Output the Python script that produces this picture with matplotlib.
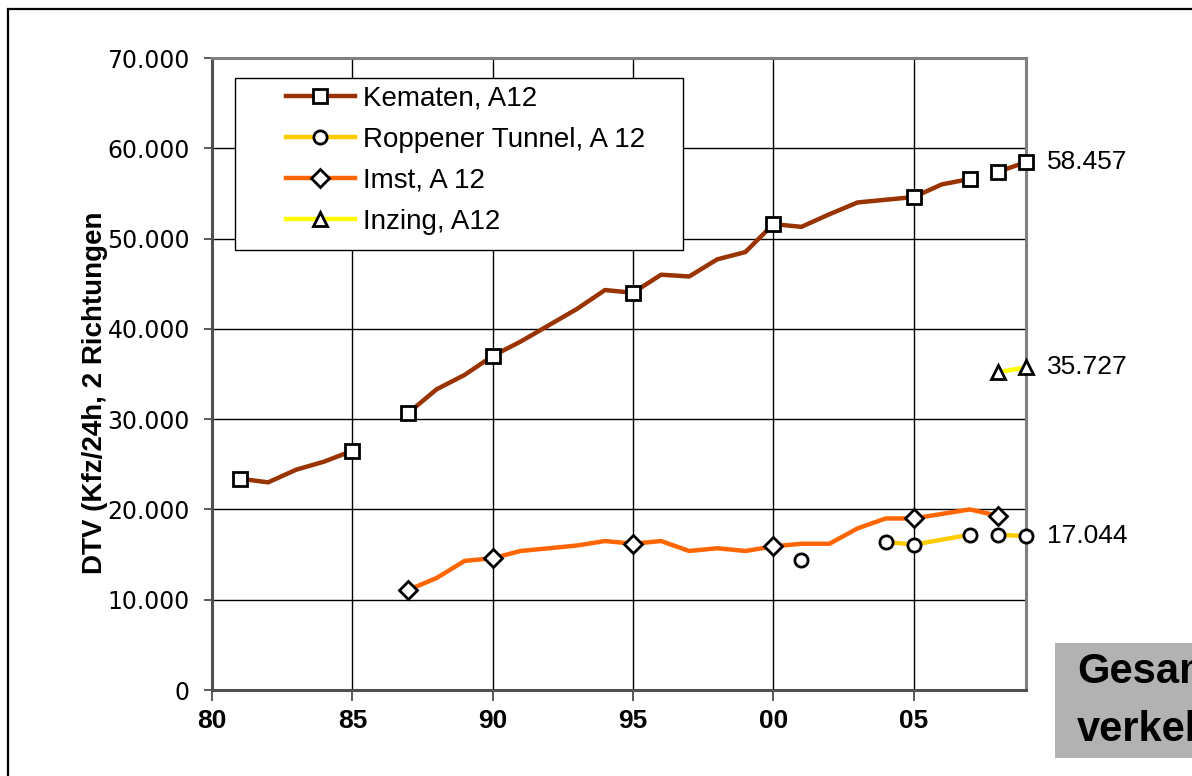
import numpy as np
import matplotlib
matplotlib.use("Agg")
import matplotlib.pyplot as plt
from matplotlib.lines import Line2D
from matplotlib.patches import Rectangle

# ---------------- data ----------------
kematen_years = [81, 82, 83, 84, 85, 86, 87, 88, 89, 90, 91, 92, 93, 94, 95, 96, 97, 98,
                 99, 100, 101, 102, 103, 104, 105, 106, 107, 108, 109]
kematen_vals = [23400, 23000, 24400, 25300, 26500, np.nan, 30700, 33300, 34900, 37000,
                38600, 40400, 42200, 44300, 44000, 46000, 45800, 47700, 48500, 51600,
                51300, 52700, 54000, 54300, 54600, 56000, 56600, 57400, 58457]
kematen_breaks = [107]
kematen_markers = [81, 85, 87, 90, 95, 100, 105, 107, 108, 109]

roppen_years = [101, 104, 105, 107, 108, 109]
roppen_vals = [14400, 16400, 16100, 17200, 17200, 17044]
roppen_breaks = [101, 107]
roppen_markers = [101, 104, 105, 107, 108, 109]

imst_years = [87, 88, 89, 90, 91, 92, 93, 94, 95, 96, 97, 98, 99, 100, 101, 102, 103,
              104, 105, 106, 107, 108]
imst_vals = [11100, 12400, 14300, 14600, 15400, 15700, 16000, 16500, 16200, 16500, 15400,
             15700, 15400, 15900, 16200, 16200, 17900, 19000, 19000, 19500, 20000, 19300]
imst_breaks = []
imst_markers = [87, 90, 95, 100, 105, 108]

inzing_years = [108, 109]
inzing_vals = [35200, 35727]
inzing_breaks = []
inzing_markers = [108, 109]

labels = ["Kematen, A12", "Roppener Tunnel, A 12", "Imst, A 12", "Inzing, A12"]
colors = ["#993300", "#FFCC00", "#FF6600", "#FFFF00"]
markers = ["s", "o", "D", "^"]
msizes = [10, 9.5, 9, 10]

xticks = [80, 85, 90, 95, 100, 105]
xticklabels = ["80", "85", "90", "95", "00", "05"]
yticks = [0, 10000, 20000, 30000, 40000, 50000, 60000, 70000]

# ---------------- figure ----------------
W, H = 1192, 776
fig = plt.figure(figsize=(W / 100, H / 100), dpi=100)
fig.patch.set_facecolor("white")

# outer frame
fig.add_artist(Rectangle((8 / W, -0.2), 1.5, 1.2 - 9 / H, transform=fig.transFigure,
                         fill=False, edgecolor="black", linewidth=1.6))

ax = fig.add_axes([212 / W, 1 - 690 / H, 814 / W, 632 / H])
ax.set_xlim(80, 109)
ax.set_ylim(0, 70000)

ax.set_xticks(xticks)
ax.set_xticklabels(xticklabels, fontfamily="Liberation Sans", fontweight="bold", fontsize=19)
ax.set_yticks(yticks)
ax.set_yticklabels([f"{v:,}".replace(",", ".") for v in yticks],
                   fontfamily="DejaVu Sans", fontsize=17)
ax.tick_params(axis="y", direction="out", length=6, width=1.2, color="#404040", pad=10)
ax.tick_params(axis="x", direction="out", length=8, width=1.2, color="#404040", pad=6)

ax.grid(True, color="black", linewidth=1.0)
ax.set_axisbelow(True)
for side in ["left", "bottom", "right", "top"]:
    ax.spines[side].set_color("#808080")
    ax.spines[side].set_linewidth(2.2)
ax.spines["left"].set_color("#505050")
ax.spines["bottom"].set_color("#505050")

ax.set_ylabel("DTV (Kfz/24h, 2 Richtungen", fontfamily="Liberation Sans",
              fontweight="bold", fontsize=20)
ax.yaxis.set_label_coords((95 - 212) / 814, (690 - 393) / 632)
ax.yaxis.label.set_va("center")


def plot_series(years, vals, breaks, mark_years, color, marker, ms):
    years = list(years)
    vals = list(vals)
    seg_x, seg_y = [], []
    segments = []
    for x, y in zip(years, vals):
        if np.isnan(y):
            if seg_x:
                segments.append((seg_x, seg_y))
            seg_x, seg_y = [], []
            continue
        seg_x.append(x)
        seg_y.append(y)
        if x in breaks:
            segments.append((seg_x, seg_y))
            seg_x, seg_y = [], []
    if seg_x:
        segments.append((seg_x, seg_y))
    for sx, sy in segments:
        ax.plot(sx, sy, color=color, linewidth=3.2, solid_capstyle="butt", zorder=3,
                clip_on=False)
    mx = [x for x in years if x in mark_years]
    my = [vals[years.index(x)] for x in mx]
    ax.plot(mx, my, linestyle="none", marker=marker, markersize=ms,
            markerfacecolor="white", markeredgecolor="black", markeredgewidth=2,
            zorder=4, clip_on=False)


series = [
    (kematen_years, kematen_vals, kematen_breaks, kematen_markers),
    (roppen_years, roppen_vals, roppen_breaks, roppen_markers),
    (imst_years, imst_vals, imst_breaks, imst_markers),
    (inzing_years, inzing_vals, inzing_breaks, inzing_markers),
]
for (yrs, vls, brk, mk), c, m, ms in zip(series, colors, markers, msizes):
    plot_series(yrs, vls, brk, mk, c, m, ms)

# end value labels
for (yrs, vls, brk, mk) in [series[0], series[3], series[1]]:
    v = vls[-1]
    ax.annotate(f"{v:,}".replace(",", "."), xy=(yrs[-1], v), xytext=(15, 0),
                textcoords="offset points", va="center", ha="left",
                fontfamily="Liberation Sans", fontsize=19, annotation_clip=False)

# legend frame + legend
fig.add_artist(Rectangle((235 / W, 1 - 250 / H), 448 / W, 172 / H, transform=fig.transFigure,
                         facecolor="white", edgecolor="black", linewidth=1.0, zorder=5))
handles = [Line2D([], [], color=c, linewidth=3.2, marker=m, markersize=ms,
                  markerfacecolor="white", markeredgecolor="black", markeredgewidth=2)
           for c, m, ms in zip(colors, markers, msizes)]
leg = fig.legend(handles, labels, loc="upper left",
                 bbox_to_anchor=(280 / W, 1 - 80 / H), frameon=False,
                 prop={"family": "Liberation Sans", "size": 20},
                 handlelength=2.5, handletextpad=0.3, labelspacing=0.54,
                 borderpad=0.2, borderaxespad=0)
leg.set_zorder(6)

# grey title box (cut off at right edge, as in the original slide)
fig.add_artist(Rectangle((1055 / W, 1 - 758 / H), 0.5, 115 / H, transform=fig.transFigure,
                         facecolor="#B2B2B2", edgecolor="none", zorder=2))
fig.text(1077 / W, 1 - 672 / H, "Gesamt-", fontfamily="Liberation Sans",
         fontweight="bold", fontsize=30, va="center", ha="left", zorder=3)
fig.text(1077 / W, 1 - 730 / H, "verkehr", fontfamily="Liberation Sans",
         fontweight="bold", fontsize=30, va="center", ha="left", zorder=3)

fig.savefig("out.png", dpi=100, facecolor="white")
